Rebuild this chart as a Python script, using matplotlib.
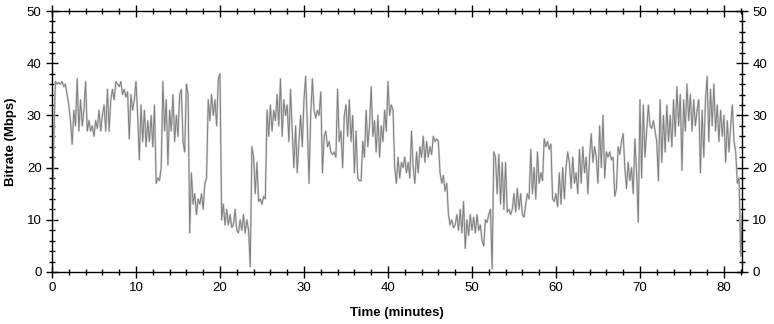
import numpy as np
import matplotlib
matplotlib.use("Agg")
import matplotlib.pyplot as plt
from matplotlib.ticker import MultipleLocator

# bitrate samples, one every 0.2 minutes (5 per minute)
bitrate = [
    4, 24, 36.5, 36, 36.3,        # 0
    36, 36.5, 35.5, 36, 34,       # 1
    32, 29, 24.5, 31, 28,         # 2
    37, 27, 33, 28, 31,           # 3
    36.5, 27, 29, 27, 28,         # 4
    26, 29, 27.5, 31, 27,         # 5
    30, 32, 27, 35, 27,           # 6
    33, 35, 33, 36.5, 36,         # 7
    35.5, 36.5, 34, 35, 33.5,     # 8
    34.5, 25.5, 34, 31, 33,       # 9
    36.5, 30, 21.5, 32, 25,       # 10
    31, 24, 29, 25, 30,           # 11
    24, 32, 17, 18, 17.5,         # 12
    20, 36.5, 27, 33, 20.5,       # 13
    31, 27, 34, 25, 30,           # 14
    26, 34, 35, 25, 23,           # 15
    36, 34, 7.5, 19, 13,          # 16
    15, 11, 14, 13, 15,           # 17
    12, 17, 18, 33, 29,           # 18
    34, 30, 33, 28, 37,           # 19
    38, 10, 13, 9, 12,            # 20
    9, 11, 8.5, 9, 12,            # 21
    8, 7.5, 10, 8, 11,            # 22
    7.5, 10, 8, 1, 24,            # 23
    22, 15, 21, 13.5, 14,         # 24
    13, 14.5, 14, 31, 26,         # 25
    32, 27, 31, 29, 34,           # 26
    28, 37, 26, 33, 30,           # 27
    32, 25, 35, 27, 20,           # 28
    28, 19, 25, 30, 24,           # 29
    33, 37.5, 28, 17, 30,         # 30
    37, 31, 29.5, 31, 30,         # 31
    34.5, 19, 26, 27, 24,         # 32
    25, 23, 22.5, 23, 22,         # 33
    35, 25, 27, 20, 30,           # 34
    32, 26, 33, 25, 30,           # 35
    19, 27, 18, 17.5, 17.5,       # 36
    25, 22, 31, 24, 28,           # 37
    35.5, 26, 29, 23, 30,         # 38
    22, 28, 25, 31, 27,           # 39
    36.5, 30, 32, 31, 20,         # 40
    17, 22, 18, 21, 20,           # 41
    22, 19, 21, 18, 27,           # 42
    20, 17, 23, 19, 24,           # 43
    22, 26, 21, 25, 22,           # 44
    24, 22.5, 26, 25, 25.5,       # 45
    25, 19, 17, 18.5, 15.5,       # 46
    17, 11, 9, 10, 8.5,           # 47
    9, 11, 8, 12, 7.5,            # 48
    13.5, 4.5, 10, 7, 11,         # 49
    8, 10.5, 7.5, 11, 8,          # 50
    9, 6, 5, 10, 9.5,             # 51
    11, 12, 0.6, 23, 22,          # 52
    15, 22.5, 13, 21, 12,         # 53
    21, 11.5, 12, 11, 12,         # 54
    15, 11.5, 16, 12, 15,         # 55
    11, 10.5, 13, 15, 14,         # 56
    23.5, 15, 20, 14, 23,         # 57
    17, 19, 17.5, 25.5, 24,       # 58
    25, 23.5, 24.5, 14, 13.5,     # 59
    15, 12.5, 19, 13, 20,         # 60
    14, 20, 23, 21, 16,           # 61
    22, 17, 19, 15, 23.5,         # 62
    17, 24, 19, 22, 15,           # 63
    22, 26.5, 21, 24, 22,         # 64
    17, 28, 20, 30, 18,           # 65
    23, 22, 23, 21.5, 22,         # 66
    14.5, 16, 24, 22.5, 25,       # 67
    26.5, 20, 16, 21, 17.5,       # 68
    20, 15, 25.5, 19, 9.5,        # 69
    33, 18, 32, 22, 27,           # 70
    32, 28, 27.5, 29, 27,         # 71
    25, 17.5, 33, 21, 30,         # 72
    23, 32, 25, 30, 24,           # 73
    33, 26, 35.5, 28, 34,         # 74
    19.5, 33, 27, 36, 29,         # 75
    34, 27, 33, 28, 31,           # 76
    33, 19, 31, 22, 33,           # 77
    37.5, 25, 35, 28, 36,         # 78
    27, 32, 25, 31, 26,           # 79
    30, 21, 29, 23, 28,           # 80
    32, 25, 23, 17, 18,           # 81
    3, 11,                        # 82
]
step_min = 0.2
minutes = np.arange(len(bitrate)) * step_min

plt.rcParams['font.family'] = ['Liberation Sans', 'DejaVu Sans']

fig = plt.figure(figsize=(7.74, 3.24), dpi=100)
ax = fig.add_axes([52/774, 1 - 272/324, 690/774, 261/324])

ax.plot(minutes, bitrate, color='#d4d4d4', lw=1.5)
ax.plot(minutes, bitrate, color='#7f7f7f', lw=0.7)

ax.set_xlim(0, 82.15)
ax.set_ylim(0, 50)
ax.xaxis.set_major_locator(MultipleLocator(10))
ax.xaxis.set_minor_locator(MultipleLocator(2))
ax.yaxis.set_major_locator(MultipleLocator(10))
ax.yaxis.set_minor_locator(MultipleLocator(2))

ax.tick_params(axis='both', which='both', direction='inout', labelsize=9.5,
               top=True, right=True, labelright=True, width=1)
ax.tick_params(which='major', length=8)
ax.tick_params(which='minor', length=5)
for sp in ax.spines.values():
    sp.set_linewidth(1)

ax.set_xlabel('Time (minutes)', fontweight='bold', fontsize=9.5, labelpad=9)
ax.set_ylabel('Bitrate (Mbps)', fontweight='bold', fontsize=9.5, labelpad=7)

fig.savefig('out.png', dpi=100)
